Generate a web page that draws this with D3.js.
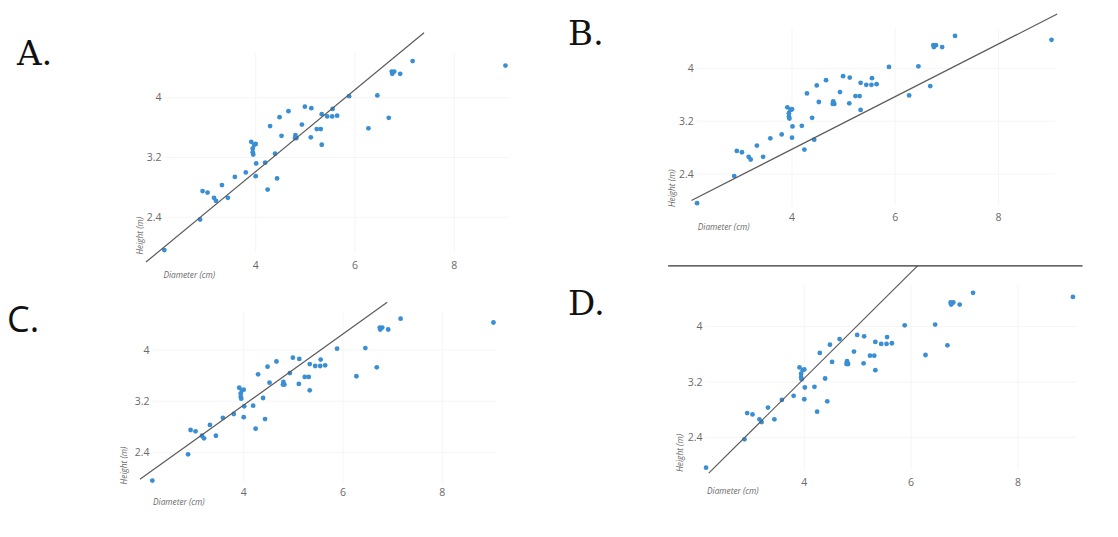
<!DOCTYPE html>
<html>
<head>
<meta charset="utf-8">
<script src="https://cdn.jsdelivr.net/npm/d3@7"></script>
<style>
  html, body { margin: 0; padding: 0; background: #fff; }
  svg { display: block; }
</style>
</head>
<body>
<svg id="chart" width="1118" height="537"></svg>
<script>
// ---- Data (same tree measurements in every panel) ----
const diameters = [2.16, 2.88, 2.93, 3.03, 3.16, 3.20, 3.32, 3.44, 3.58, 3.80,
  4.00, 3.91, 3.97, 3.94, 3.94, 3.95, 4.00, 4.01, 4.19, 4.24,
  4.39, 4.43, 4.29, 4.48, 4.52, 4.66, 4.80, 4.82, 4.79, 4.93,
  4.99, 5.11, 5.12, 5.23, 5.31, 5.33, 5.33, 5.44, 5.54, 5.55,
  5.64, 5.88, 6.27, 6.45, 6.68, 6.74, 6.79, 6.75, 6.91, 7.16, 9.03];
const heights = [1.96, 2.37, 2.75, 2.73, 2.66, 2.62, 2.83, 2.66, 2.94, 3.00,
  2.95, 3.41, 3.37, 3.32, 3.27, 3.24, 3.38, 3.12, 3.13, 2.77,
  3.25, 2.92, 3.62, 3.74, 3.49, 3.82, 3.50, 3.46, 3.46, 3.64,
  3.88, 3.47, 3.86, 3.58, 3.58, 3.37, 3.78, 3.75, 3.75, 3.85,
  3.76, 4.02, 3.59, 4.03, 3.73, 4.35, 4.35, 4.32, 4.32, 4.49, 4.43];

const panelLetters = ["A.", "B.", "C.", "D."];
const xTicks = [4, 6, 8];
const yTicks = [2.4, 3.2, 4];
const yTickLabels = ["2.4", "3.2", "4"];
const xTitle = "Diameter (cm)";
const yTitle = "Height (m)";
// Candidate fit lines per panel: [x1, y1, x2, y2] in data units
const lineA = [1.79, 1.80, 7.39, 4.87];
const lineB = [2.05, 2.00, 9.14, 4.82];
const lineC = [1.91, 1.98, 6.89, 4.745];
const lineD = [2.21, 1.88, 6.12, 4.88];
const fitLines = [lineA, lineB, lineC, lineD];

// ---- Layout (pixels) ----
const xDomain = [2, 9.2];
const yDomain = [1.9, 4.7];
const panels = [
  { xr: [156.4, 513.9], yr: [254.6, 45.4], letter: [17, 65], font: "DejaVu Serif", yTitleDx: -13.4, xTitleDx: 7, xTitleDy: 23, xTickDy: 14 },
  { xr: [688.8, 1060.3], yr: [207.1, 22.0], letter: [568, 45], font: "DejaVu Serif", yTitleDx: -13.8, xTitleDx: 9, xTitleDy: 23, xTickDy: 13.5 },
  { xr: [144.4, 501.9], yr: [484.4, 305.2], letter: [7, 332], font: "Open Sans", yTitleDx: -17.4, xTitleDx: 8.6, xTitleDy: 21, xTickDy: 12 },
  { xr: [697.5, 1082.0], yr: [471.8, 278.3], letter: [568, 315], font: "DejaVu Serif", yTitleDx: -14.5, xTitleDx: 9.5, xTitleDy: 22, xTickDy: 14 }
];

const svg = d3.select("#chart");
const pts = diameters.map((d, i) => ({ x: d, y: heights[i] }));

panels.forEach((p, pi) => {
  const x = d3.scaleLinear().domain(xDomain).range(p.xr);
  const y = d3.scaleLinear().domain(yDomain).range(p.yr);
  const g = svg.append("g");

  // letter
  g.append("text")
    .attr("x", p.letter[0]).attr("y", p.letter[1])
    .attr("font-family", p.font)
    .attr("font-size", pi === 2 ? 36 : 34)
    .attr("fill", "#111")
    .text(panelLetters[pi]);

  // gridlines
  g.selectAll(".vg").data(xTicks).join("line")
    .attr("x1", d => x(d)).attr("x2", d => x(d))
    .attr("y1", y(yDomain[0]) - 2).attr("y2", y(4.6))
    .attr("stroke", "#f5f5f5").attr("stroke-width", 1);
  g.selectAll(".hg").data(yTicks).join("line")
    .attr("x1", x(2.15)).attr("x2", x(9.1))
    .attr("y1", d => y(d)).attr("y2", d => y(d))
    .attr("stroke", "#f5f5f5").attr("stroke-width", 1);

  // tick labels
  g.selectAll(".xt").data(xTicks).join("text")
    .attr("x", d => x(d)).attr("y", y(yDomain[0]) + p.xTickDy)
    .attr("text-anchor", "middle")
    .attr("font-family", "Open Sans").attr("font-size", 10.5)
    .attr("fill", "#6a6a6a")
    .text(d => d);
  g.selectAll(".yt").data(yTicks).join("text")
    .attr("x", x(xDomain[0]) + 5).attr("y", d => y(d) + 3.7)
    .attr("text-anchor", "end")
    .attr("font-family", "Open Sans").attr("font-size", 10.5)
    .attr("fill", "#6a6a6a")
    .text((d, i) => yTickLabels[i]);

  // axis titles
  g.append("text")
    .attr("x", x(xDomain[0]) + p.xTitleDx).attr("y", y(yDomain[0]) + p.xTitleDy)
    .attr("font-family", "Open Sans").attr("font-style", "italic")
    .attr("font-size", 8.3).attr("fill", "#6a6a6a")
    .text(xTitle);
  g.append("text")
    .attr("transform", `translate(${x(xDomain[0]) + p.yTitleDx},${y(yDomain[0])}) rotate(-90)`)
    .attr("font-family", "Open Sans").attr("font-style", "italic")
    .attr("font-size", 8.3).attr("fill", "#6a6a6a")
    .text(yTitle);

  // points
  g.selectAll("circle").data(pts).join("circle")
    .attr("cx", d => x(d.x)).attr("cy", d => y(d.y))
    .attr("r", 2.4)
    .attr("fill", "#3a8ed2");

  // fit line
  const L = fitLines[pi];
  g.append("line")
    .attr("x1", x(L[0])).attr("y1", y(L[1]))
    .attr("x2", x(L[2])).attr("y2", y(L[3]))
    .attr("stroke", "#5a5a5a").attr("stroke-width", 1.2);

  // panel D has a horizontal rule at the top of its line
  if (pi === 3) {
    g.append("line")
      .attr("x1", x(1.45)).attr("x2", x(9.21))
      .attr("y1", y(L[3])).attr("y2", y(L[3]))
      .attr("stroke", "#333").attr("stroke-width", 1.2);
  }
});
</script>
</body>
</html>
